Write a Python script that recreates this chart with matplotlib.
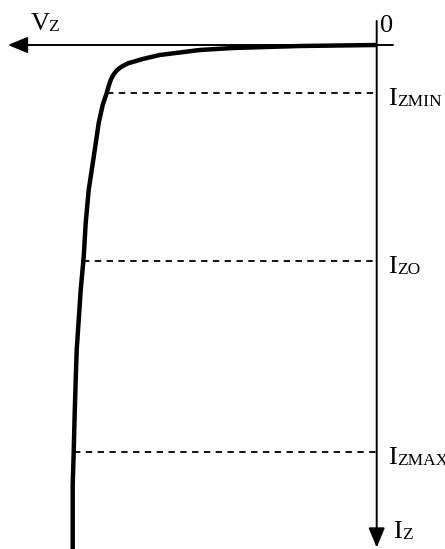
import numpy as np
import matplotlib
matplotlib.use("Agg")
import matplotlib.pyplot as plt

plt.rcParams['font.family'] = ['Liberation Serif', 'DejaVu Serif']
plt.rcParams['lines.scale_dashes'] = False

# reverse breakdown curve of the zener (Vz grows to the left, Iz grows downwards)
vz = [0, 77, 144, 177, 217, 234, 244, 248, 251, 254, 257, 260, 262, 264, 266,
      268, 270, 274, 278, 283, 288, 291, 293, 296, 298, 300, 301, 302, 303, 304, 304]
iz = [0, 1, 3, 5, 10, 14, 17, 18, 19.5, 21, 23, 25.5, 28, 31, 35,
      41, 48, 60, 78, 112, 145, 178, 212, 245, 275, 305, 335, 368, 407, 440, 504]

# operating current levels
levels = [48, 216, 407]
level_subs = ['ZMIN', 'ZO', 'ZMAX']

fig = plt.figure(figsize=(4.45, 5.49), dpi=100)
ax = fig.add_axes([0, 0, 1, 1])
ax.set_xlim(376.7, -68.3)
ax.set_ylim(504, -45)
ax.axis('off')

arrow = dict(arrowstyle='-|>,head_length=1.2,head_width=0.5', mutation_scale=10,
             lw=1.4, color='k', shrinkA=0, shrinkB=0)
# Vz axis, pointing left
ax.annotate('', xy=(368.7, 0), xytext=(-16.3, 0), arrowprops=arrow)
# Iz axis, pointing down
ax.annotate('', xy=(0, 502.5), xytext=(0, -24), arrowprops=arrow)

# dashed markers from the curve to the current axis
for lvl in levels:
    v_at = np.interp(lvl, iz, vz)
    ax.plot([v_at, 0], [lvl, lvl], color='k', lw=1.3,
            linestyle=(0, (4.6, 3.9)), zorder=2)

ax.plot(vz, iz, color='k', lw=3.2, solid_joinstyle='round',
        solid_capstyle='butt', zorder=3)


def label(x, y, main, sub, sub_dx, sub_dy=1.0):
    ax.text(x, y, main, fontsize=19, ha='left', va='baseline')
    ax.text(x - sub_dx, y + sub_dy, sub, fontsize=12.5, ha='left', va='baseline')


for lvl, sub in zip(levels, level_subs):
    label(-11.3, lvl + 12, 'I', sub, 9)

label(345.7, -15, 'V', 'Z', 17.5)
label(-16.3, 493, 'I', 'Z', 9)
ax.text(-3.3, -13, '0', fontsize=19, ha='left', va='baseline')

fig.savefig('out.png', dpi=100)
